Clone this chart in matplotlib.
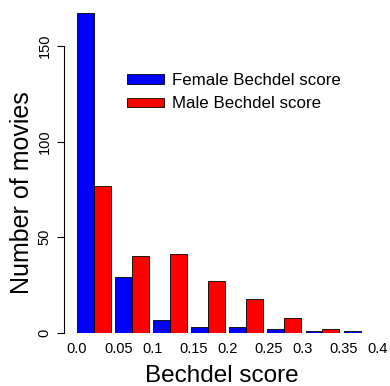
import matplotlib
matplotlib.use("Agg")
import matplotlib.pyplot as plt
from matplotlib.patches import Patch
import numpy as np

plt.rcParams['font.family'] = ['Liberation Sans', 'DejaVu Sans']

# counts per Bechdel score bin
female = [167, 29, 7, 3, 3, 2, 1, 1]
male = [77, 40, 41, 27, 18, 8, 2, 0]
score_labels = ['0.0', '0.05', '0.1', '0.15', '0.2', '0.25', '0.3', '0.35', '0.4']
yticks = [0, 50, 100, 150]

W, H = 390, 386
fig = plt.figure(figsize=(W / 100, H / 100), dpi=100)

# pixel layout of the plot region
px_left, px_right, px_base = 64, 386, 333
px_per_unit = 1.915          # pixels per movie
px_per_bar = 16.93           # pixels per bar width
px_first = 77                # left edge of first bar
ymax = 170
px_top = px_base - ymax * px_per_unit

ax = fig.add_axes([px_left / W, (H - px_base) / H,
                   (px_right - px_left) / W, (px_base - px_top) / H])

space = 0.25
n = len(female)
pos = np.arange(n) * (2 + space)
ax.bar(pos, female, width=1, align='edge', color='#0000ff', edgecolor='black', linewidth=0.6)
ax.bar(pos + 1, male, width=1, align='edge', color='#ff0000', edgecolor='black', linewidth=0.6)

ax.set_xlim((px_left - px_first) / px_per_bar, (px_right - px_first) / px_per_bar)
ax.set_ylim(0, ymax)

for s in ['top', 'right', 'bottom']:
    ax.spines[s].set_visible(False)
ax.spines['left'].set_bounds(0, 150)
ax.spines['left'].set_linewidth(0.8)
ax.set_xticks([])
ax.set_yticks(yticks)
ax.set_yticklabels([str(v) for v in yticks], rotation=90, va='center', fontsize=10.5)
ax.tick_params(axis='y', length=5, width=0.8, pad=4)

# x labels spaced evenly across the bars
span = pos[-1] + 2
lab_pos = np.linspace(0, span, len(score_labels))
lab_y = -(349 - px_base) / (px_base - px_top)
for x, lab in zip(lab_pos, score_labels):
    ax.text(x - 0.6, lab_y, lab, transform=ax.get_xaxis_transform(),
            ha='left', va='center', fontsize=10.5)

fig.text(222 / W, 1 - 376 / H, 'Bechdel score', ha='center', va='center', fontsize=17.5)
fig.text(22 / W, 1 - 193 / H, 'Number of movies', ha='center', va='center',
         rotation=90, fontsize=18)

handles = [Patch(facecolor='#0000ff', edgecolor='black', linewidth=0.6),
           Patch(facecolor='#ff0000', edgecolor='black', linewidth=0.6)]
fig.legend(handles, ['Female Bechdel score', 'Male Bechdel score'],
           loc='upper left', bbox_to_anchor=(127 / W, 1 - 73 / H),
           frameon=False, fontsize=12.2, handlelength=2.2, handleheight=0.45,
           handletextpad=0.45, labelspacing=0.48, borderpad=0, borderaxespad=0)

fig.savefig('out.png', dpi=100)
